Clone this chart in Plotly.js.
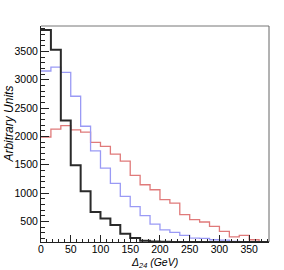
<!DOCTYPE html>
<html>
<head>
<meta charset="utf-8">
<script src="https://cdn.plot.ly/plotly-3.0.1.min.js"></script>
<style>html,body{margin:0;padding:0;background:#fff;}#chart{width:284px;height:270px;}</style>
</head>
<body>
<div id="chart"></div>
<script>
// Histogram binning (Delta_24 in GeV): 23 bins of 50/3 GeV starting at 0
const binStart = 0;
const binWidth = 50 / 3;
// Series values per bin (Arbitrary Units)
const blackVals = [3880, 3530, 2280, 1490, 1030, 665, 552, 436, 282, 206, 160, 145, 140, 138, 137, 137, 137, 137, 137, 137, 137, 137, 137];
const blueVals  = [3155, 3225, 3130, 2710, 2180, 1745, 1440, 1170, 940, 760, 600, 450, 350, 305, 253, 206, 200, 176, 170, 146, 142, 140, 138];
const redVals   = [1990, 2130, 2190, 2115, 2075, 1895, 1823, 1689, 1565, 1312, 1147, 1059, 883, 824, 618, 530, 489, 412, 324, 225, 253, 176, 140];
const xTickVals = [0, 50, 100, 150, 200, 250, 300, 350];
const yTickVals = [500, 1000, 1500, 2000, 2500, 3000, 3500];

function stepTrace(vals, color, width) {
  const xs = [], ys = [];
  for (let i = 0; i < vals.length; i++) { xs.push(binStart + i * binWidth); ys.push(vals[i]); }
  xs.push(binStart + vals.length * binWidth); ys.push(vals[vals.length - 1]);
  return {x: xs, y: ys, type: 'scatter', mode: 'lines', line: {shape: 'hv', color: color, width: width}, hoverinfo: 'skip', showlegend: false, cliponaxis: true};
}

const nB = redVals.length;
const xMax = binStart + nB * binWidth;
const font = 'Liberation Sans, Arial, Helvetica, sans-serif';
const data = [
  stepTrace(redVals, '#e07a7a', 1.3),
  stepTrace(blueVals, '#9a9af5', 1.3),
  stepTrace(blackVals, '#2a2a2a', 2)
];
const layout = {
  width: 284, height: 270,
  margin: {l: 41, r: 15, t: 26, b: 28, pad: 0},
  paper_bgcolor: '#fff', plot_bgcolor: '#fff',
  showlegend: false,
  font: {family: font, size: 10.5, color: '#000'},
  xaxis: {
    range: [0, xMax], tickvals: xTickVals, ticktext: xTickVals.map(String),
    ticks: 'inside', ticklen: 7, tickcolor: '#222', tickwidth: 1, ticklabelstandoff: -3,
    minor: {dtick: 10, tick0: 0, ticks: 'inside', ticklen: 3.5, tickcolor: '#222', tickwidth: 1, showgrid: false},
    showgrid: false, zeroline: false, showline: true, linecolor: '#222', linewidth: 1,
    tickfont: {family: font, size: 10.5, color: '#000'}, fixedrange: true
  },
  yaxis: {
    range: [136, 3950], tickvals: yTickVals, ticktext: yTickVals.map(String),
    ticks: 'inside', ticklen: 8, tickcolor: '#222', tickwidth: 1,
    minor: {dtick: 100, tick0: 0, ticks: 'inside', ticklen: 4, tickcolor: '#222', tickwidth: 1, showgrid: false},
    showgrid: false, zeroline: false, showline: true, linecolor: '#222', linewidth: 1,
    tickfont: {family: font, size: 10.5, color: '#000'}, fixedrange: true
  },
  shapes: [
    {type: 'line', xref: 'paper', yref: 'paper', x0: 0, x1: 1, y0: 1, y1: 1, line: {color: '#777', width: 1}},
    {type: 'line', xref: 'paper', yref: 'paper', x0: 1, x1: 1, y0: 0, y1: 1, line: {color: '#666', width: 1}}
  ],
  annotations: [
    {text: '<i>Arbitrary Units</i>', xref: 'paper', yref: 'paper', x: -0.138, y: 0.546, xanchor: 'center', yanchor: 'middle', textangle: -90, showarrow: false, font: {family: font, size: 12, color: '#000'}},
    {text: '<i>\u0394<sub>24</sub> (GeV)</i>', xref: 'paper', yref: 'paper', x: 0.498, y: -0.096, xanchor: 'center', yanchor: 'middle', showarrow: false, font: {family: font, size: 10.5, color: '#000'}}
  ]
};
Plotly.newPlot('chart', data, layout, {staticPlot: true, displayModeBar: false});
</script>
</body>
</html>
